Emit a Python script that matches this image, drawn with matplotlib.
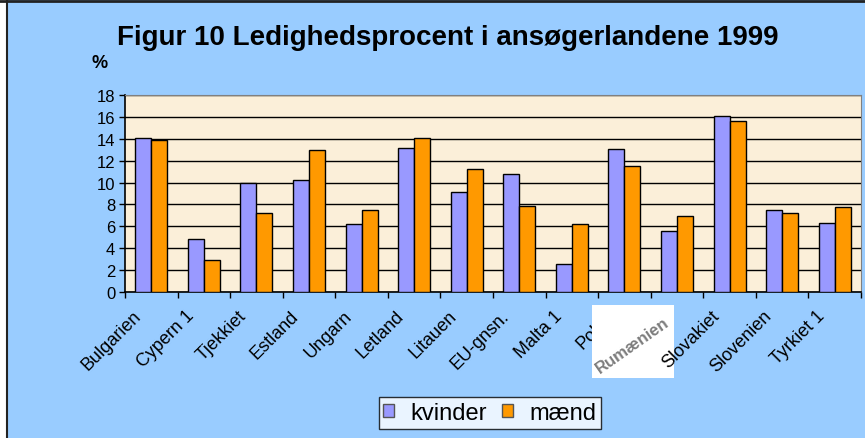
import numpy as np
import matplotlib.pyplot as plt
from matplotlib.patches import Rectangle

plt.rcParams['font.family'] = ['Liberation Sans', 'DejaVu Sans']

lande = ['Bulgarien', 'Cypern 1', 'Tjekkiet', 'Estland', 'Ungarn', 'Letland', 'Litauen',
         'EU-gnsn.', 'Malta 1', 'Polen', 'Rumænien', 'Slovakiet', 'Slovenien', 'Tyrkiet 1']
kvinder = [14.1, 4.8, 10.0, 10.2, 6.2, 13.2, 9.1, 10.75, 2.6, 13.1, 5.55, 16.05, 7.45, 6.35]
maend = [13.9, 2.9, 7.2, 13.0, 7.45, 14.1, 11.2, 7.85, 6.2, 11.5, 6.95, 15.6, 7.2, 7.75]
yticks = list(range(0, 19, 2))

W, H = 865, 439
fig = plt.figure(figsize=(W / 100, H / 100), dpi=100, facecolor='#99CCFF')
ax = fig.add_axes([125 / W, 1 - 293 / H, (861 - 125) / W, (293 - 96) / H])
ax.set_facecolor('#FBEFD9')

x = np.arange(len(lande))
bw = 0.305
ax.bar(x - bw / 2, kvinder, bw, color='#9999FF', edgecolor='black', linewidth=1.0,
       label='kvinder', zorder=3)
ax.bar(x + bw / 2, maend, bw, color='#FF9900', edgecolor='black', linewidth=1.0,
       label='mænd', zorder=3)

ax.set_xlim(-0.5, len(lande) - 0.5)
ax.set_ylim(0, 18)
ax.set_yticks(yticks)
ax.set_yticklabels([str(v) for v in yticks], fontsize=12)
ax.yaxis.grid(True, color='black', linewidth=1.0, zorder=1)
ax.set_axisbelow(True)

ax.set_xticks(np.arange(len(lande) + 1) - 0.5)
ax.set_xticklabels([])
ax.tick_params(axis='x', length=4, width=1, direction='out', color='black')
ax.tick_params(axis='y', length=4, width=1, direction='out', color='black', pad=3)

for i, name in enumerate(lande):
    if name == 'Rumænien':
        continue  # covered by the pasted image below
    # Slovakiet sits on top of the pasted image, Polen underneath it
    z = 10 if name == 'Slovakiet' else 2
    ax.text(i - 0.24, -1.9, name, rotation=45, rotation_mode='anchor', ha='right',
            va='center', fontsize=13, clip_on=False, zorder=z)

# pasted "Rumænien" image over the axis labels
ax.add_patch(Rectangle((592 / W, 1 - 379 / H), 82 / W, 73 / H, transform=fig.transFigure,
                       facecolor='white', edgecolor='none', zorder=5, clip_on=False))
ax.text(632 / W, 1 - 346 / H, 'Rumænien', rotation=35, ha='center', va='center',
        transform=fig.transFigure, fontsize=12, color='#666666', alpha=0.85, zorder=6,
        fontweight='bold', clip_on=False)

for s in ['top', 'right']:
    ax.spines[s].set_color('#808080')
for s in ['left', 'bottom']:
    ax.spines[s].set_color('black')
    ax.spines[s].set_linewidth(1.2)

fig.text(448 / W, 1 - 38 / H, 'Figur 10 Ledighedsprocent i ansøgerlandene 1999',
         ha='center', va='center', fontsize=20, fontweight='bold')
fig.text(100 / W, 1 - 63 / H, '%', ha='center', va='center', fontsize=13, fontweight='bold')

leg = fig.legend(loc='center', bbox_to_anchor=(490 / W, 1 - 414 / H), ncol=2,
                 fontsize=17, frameon=True, fancybox=False, edgecolor='black',
                 handlelength=0.45, handleheight=0.45, handletextpad=0.7,
                 columnspacing=0.65, borderpad=0.2, borderaxespad=0)
leg.get_frame().set_facecolor('white')
leg.get_frame().set_linewidth(1.0)
for h in leg.legend_handles:
    h.set_edgecolor('#555555')

# frame lines at top and left
fig.add_artist(plt.Line2D([0, 1], [1 - 1.5 / H, 1 - 1.5 / H], transform=fig.transFigure,
                          color='#222222', linewidth=2))
fig.add_artist(plt.Line2D([6.5 / W, 6.5 / W], [0, 1], transform=fig.transFigure,
                          color='#222222', linewidth=1.5))
fig.add_artist(Rectangle((0, 0), 6 / W, 1, transform=fig.transFigure,
                         facecolor='white', edgecolor='none'))

fig.savefig('out.png', dpi=100, facecolor=fig.get_facecolor())
